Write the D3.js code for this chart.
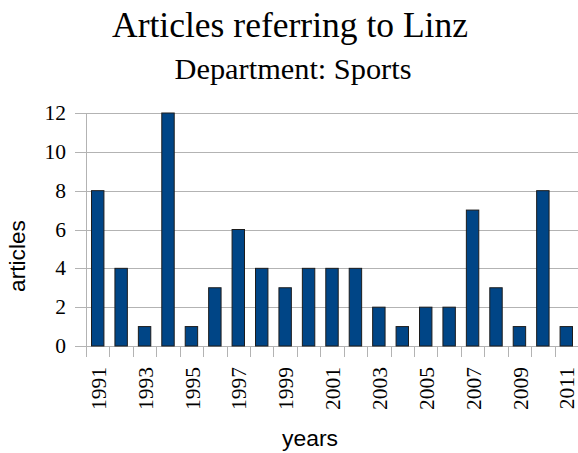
<!DOCTYPE html>
<html><head><meta charset="utf-8">
<script src="https://cdn.jsdelivr.net/npm/d3@7"></script>
<style>body{margin:0;background:#fff}svg{display:block}</style>
</head><body>
<svg id="c" width="578" height="453"></svg>
<script>
const years = ["1991","1992","1993","1994","1995","1996","1997","1998","1999","2000","2001","2002","2003","2004","2005","2006","2007","2008","2009","2010","2011"];
const articles = [8,4,1,12,1,3,6,4,3,4,4,4,2,1,2,2,7,3,1,8,1];
const yTicks = [0,2,4,6,8,10,12];
const titleText = "Articles referring to Linz";
const subtitleText = "Department: Sports";
const xTitle = "years";
const yTitle = "articles";

const svg = d3.select("#c");
const L = 86, R = 578, T = 113, B = 346;
const serif = "'Liberation Serif', serif";
const sans = "'Liberation Sans', Arial, sans-serif";
const grid = "#b3b3b3";

const x = d3.scaleBand().domain(years).range([L, R]).paddingInner(0.47).paddingOuter(0.235);
const xb = d3.scaleLinear().domain([0, years.length]).range([L, R]);
const y = d3.scaleLinear().domain([0, 12]).range([B, T]);

function fit(sel, w) {
  const n = sel.node();
  const fs = parseFloat(sel.attr("font-size"));
  const cur = n.getComputedTextLength();
  sel.attr("font-size", (fs * w / cur).toFixed(2));
}

// gridlines + y ticks
const gy = svg.append("g");
gy.selectAll("line").data(yTicks).join("line")
  .attr("x1", L - 11).attr("x2", R)
  .attr("y1", d => Math.round(y(d)) + 0.5).attr("y2", d => Math.round(y(d)) + 0.5)
  .attr("stroke", grid).attr("stroke-width", 1);
gy.selectAll("text").data(yTicks).join("text")
  .attr("x", 66).attr("y", d => y(d)).attr("dy", "0.33em")
  .attr("text-anchor", "end").attr("font-family", serif).attr("font-size", 21.5)
  .attr("fill", "#000").text(d => d);

// y axis line
svg.append("line").attr("x1", L + 0.5).attr("x2", L + 0.5).attr("y1", T).attr("y2", B + 11)
  .attr("stroke", grid);

// x boundary ticks
svg.append("g").selectAll("line").data(d3.range(years.length + 1)).join("line")
  .attr("x1", d => Math.round(xb(d)) + 0.5).attr("x2", d => Math.round(xb(d)) + 0.5)
  .attr("y1", B).attr("y2", B + 11).attr("stroke", grid);

// bars
svg.append("g").selectAll("rect").data(articles).join("rect")
  .attr("x", (d, i) => x(years[i]))
  .attr("width", x.bandwidth())
  .attr("y", d => y(d))
  .attr("height", d => B - y(d))
  .attr("fill", "#004586").attr("stroke", "#1c1c1c").attr("stroke-width", 1);

// x labels (every other year)
svg.append("g").selectAll("text").data(years.filter((d, i) => i % 2 === 0)).join("text")
  .attr("transform", d => `translate(${x(d) + x.bandwidth() / 2 + 1},367) rotate(-90)`)
  .attr("dy", "0.33em").attr("text-anchor", "end")
  .attr("font-family", serif).attr("font-size", 21.5).attr("fill", "#000").text(d => d);

// titles
const t1 = svg.append("text").attr("x", 290).attr("y", 37).attr("text-anchor", "middle")
  .attr("font-family", serif).attr("font-size", 34).attr("fill", "#000").text(titleText);
fit(t1, 356);
const t2 = svg.append("text").attr("x", 293).attr("y", 79).attr("text-anchor", "middle")
  .attr("font-family", serif).attr("font-size", 24).attr("fill", "#000").text(subtitleText);
fit(t2, 237);

// axis titles
const xt = svg.append("text").attr("x", 310).attr("y", 446).attr("text-anchor", "middle")
  .attr("font-family", sans).attr("font-size", 22).attr("fill", "#000").text(xTitle);
fit(xt, 56);
const yt = svg.append("text").attr("transform", "translate(25,256) rotate(-90)").attr("text-anchor", "middle")
  .attr("font-family", sans).attr("font-size", 22).attr("fill", "#000").text(yTitle);
fit(yt, 72);
</script>
</body></html>
